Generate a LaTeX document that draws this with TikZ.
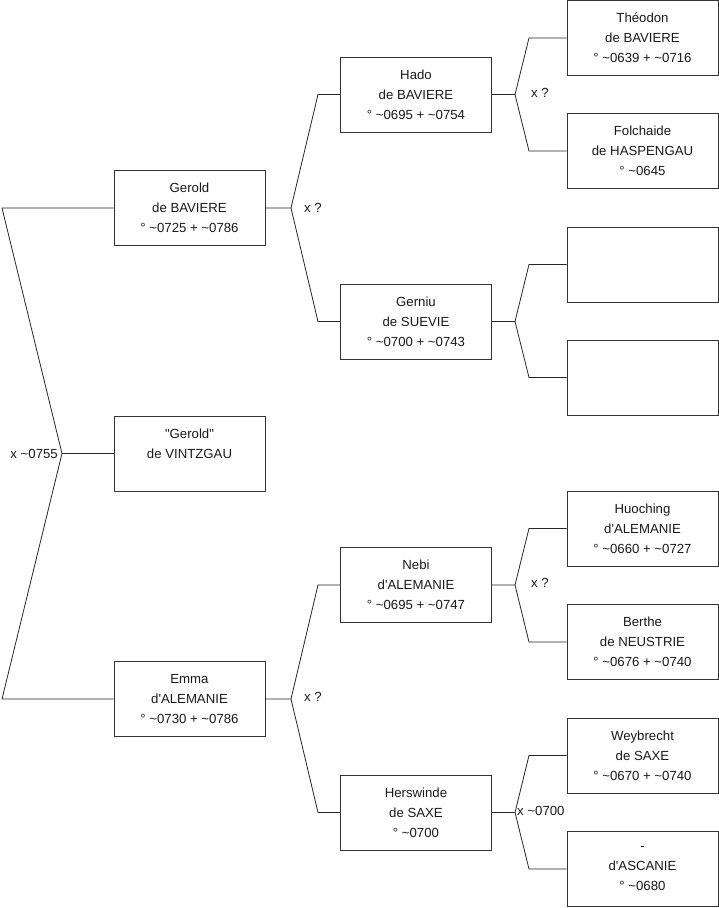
\documentclass[tikz,border=0pt]{standalone}
\usepackage{fontspec}
\setmainfont{Liberation Sans}
\usetikzlibrary{positioning}
\newcommand{\tld}{\textasciitilde}
\newcommand{\apo}{\textquotesingle}

\begin{document}
\begin{tikzpicture}[
    x=1pt, y=-1pt,
    every node/.style={font=\fontsize{13.2}{20}\selectfont, text=black!90},
    person/.style={draw=black!80, line width=0.8pt, minimum width=151pt, minimum height=75pt, align=center, inner sep=0pt},
    link/.style={draw=black!85, line width=0.8pt},
    union/.style={inner sep=0pt, anchor=west}
]
    \useasboundingbox (0,0) rectangle (719,908);

    % Generation 1
    \node[person] (gerold)   at (189.5,208)   {Gerold\\de BAVIERE\\° \tld0725 + \tld0786};
    \node[person] (vintzgau) at (189.5,453.5) {\textquotedbl Gerold\textquotedbl\\de VINTZGAU\\\mbox{}};
    \node[person] (emma)     at (189.5,699)   {Emma\\d\apo ALEMANIE\\° \tld0730 + \tld0786};

    % Generation 2
    \node[person] (hado)      at (416,94.5)  {Hado\\de BAVIERE\\° \tld0695 + \tld0754};
    \node[person] (gerniu)    at (416,321.5) {Gerniu\\de SUEVIE\\° \tld0700 + \tld0743};
    \node[person] (nebi)      at (416,585)   {Nebi\\d\apo ALEMANIE\\° \tld0695 + \tld0747};
    \node[person] (herswinde) at (416,812.5) {Herswinde\\de SAXE\\° \tld0700};

    % Generation 3
    \node[person] (theodon)   at (642.5,38)    {Théodon\\de BAVIERE\\° \tld0639 + \tld0716};
    \node[person] (folchaide) at (642.5,151)   {Folchaide\\de HASPENGAU\\° \tld0645};
    \node[person] (gerniuF)   at (642.5,264.5) {};
    \node[person] (gerniuM)   at (642.5,377.5) {};
    \node[person] (huoching)  at (642.5,528.5) {Huoching\\d\apo ALEMANIE\\° \tld0660 + \tld0727};
    \node[person] (berthe)    at (642.5,642)   {Berthe\\de NEUSTRIE\\° \tld0676 + \tld0740};
    \node[person] (weybrecht) at (642.5,755.5) {Weybrecht\\de SAXE\\° \tld0670 + \tld0740};
    \node[person] (ascanie)   at (642.5,869)   {-\\d\apo ASCANIE\\° \tld0680};

    % Couple gerold x emma
    \coordinate (u0)  at (62,453.5);
    \coordinate (u0t) at (2,208);
    \coordinate (u0b) at (2,699);
    \draw[link] (gerold.west) -- (u0t) -- (u0) -- (u0b) -- (emma.west);
    \draw[link] (u0) -- (vintzgau.west);
    \node[union, anchor=east] (m0) at (58,453.5) {x \tld0755};

    % Parents of gerold
    \coordinate (u1)  at (291,208);
    \coordinate (u1t) at (318,94.5);
    \coordinate (u1b) at (318,321.5);
    \draw[link] (gerold.east) -- (u1) -- (u1t) -- (hado.west);
    \draw[link] (u1) -- (u1b) -- (gerniu.west);
    \node[union] (m1) at (304,208) {x ?};

    % Parents of hado
    \coordinate (u2)  at (515,94.5);
    \coordinate (u2t) at (529,38);
    \coordinate (u2b) at (529,151);
    \draw[link] (hado.east) -- (u2) -- (u2t) -- (theodon.west);
    \draw[link] (u2) -- (u2b) -- (folchaide.west);
    \node[union] (m2) at (531,92.5) {x ?};

    % Parents of gerniu
    \coordinate (u3)  at (515,321.5);
    \coordinate (u3t) at (529,264.5);
    \coordinate (u3b) at (529,377.5);
    \draw[link] (gerniu.east) -- (u3) -- (u3t) -- (gerniuF.west);
    \draw[link] (u3) -- (u3b) -- (gerniuM.west);

    % Parents of emma
    \coordinate (u4)  at (291,699);
    \coordinate (u4t) at (318,585);
    \coordinate (u4b) at (318,812.5);
    \draw[link] (emma.east) -- (u4) -- (u4t) -- (nebi.west);
    \draw[link] (u4) -- (u4b) -- (herswinde.west);
    \node[union] (m4) at (304,697) {x ?};

    % Parents of nebi
    \coordinate (u5)  at (515,585);
    \coordinate (u5t) at (529,528.5);
    \coordinate (u5b) at (529,642);
    \draw[link] (nebi.east) -- (u5) -- (u5t) -- (huoching.west);
    \draw[link] (u5) -- (u5b) -- (berthe.west);
    \node[union] (m5) at (531,583) {x ?};

    % Parents of herswinde
    \coordinate (u6)  at (515,812.5);
    \coordinate (u6t) at (529,755.5);
    \coordinate (u6b) at (529,869);
    \draw[link] (herswinde.east) -- (u6) -- (u6t) -- (weybrecht.west);
    \draw[link] (u6) -- (u6b) -- (ascanie.west);
    \node[union] (m6) at (517,811) {x \tld0700};

\end{tikzpicture}
\end{document}
